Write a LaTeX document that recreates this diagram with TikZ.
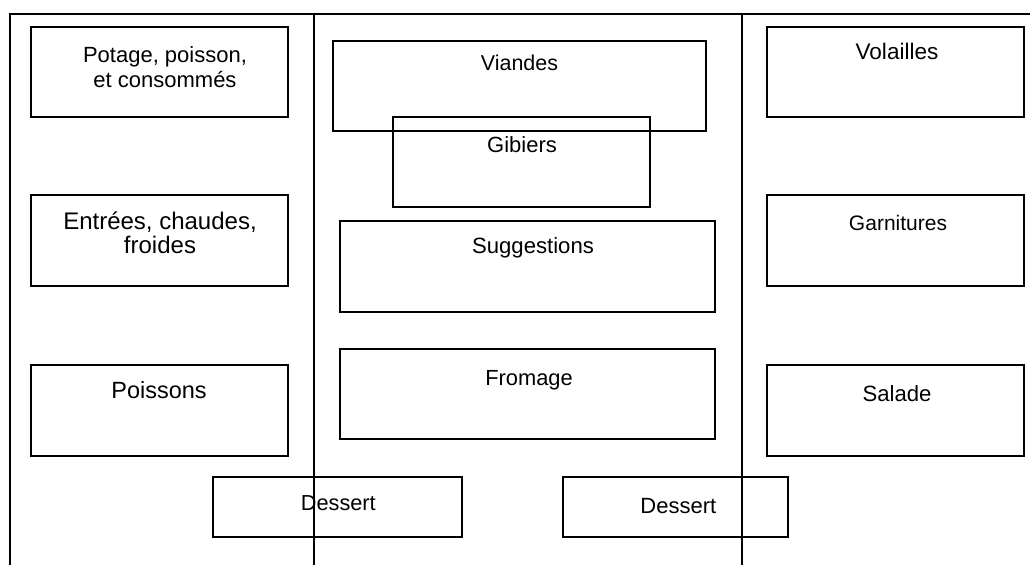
\documentclass[tikz,border=0pt]{standalone}
\usepackage{fontspec}
\setmainfont{Liberation Sans}
\usetikzlibrary{fit}
\begin{document}
\begin{tikzpicture}[x=0.75pt,y=-0.75pt,
  frameline/.style={line width=1.5pt, line join=miter},
  box/.style={draw, line width=1.3pt, inner sep=0pt, outer sep=0pt},
  lbl/.style={inner sep=0pt, anchor=base, align=center}]
\useasboundingbox (0,0) rectangle (1030,565);
% frame coordinates
\coordinate (tl) at (10,14);
\coordinate (tr) at (1030,14);
\coordinate (bl) at (10,565);
\coordinate (v1t) at (314,14);
\coordinate (v1b) at (314,565);
\coordinate (v2t) at (742,14);
\coordinate (v2b) at (742,565);
\draw[frameline] (bl) -- (tl) -- (tr);
\draw[frameline] (v1t) -- (v1b);
\draw[frameline] (v2t) -- (v2b);
% boxes
\node[box, fit={(31,27) (288,117)}] (potage) {};
\node[box, fit={(31,195) (288,286)}] (entrees) {};
\node[box, fit={(31,365) (288,456)}] (poissons) {};
\node[box, fit={(333,41) (706,131)}] (viandes) {};
\node[box, fit={(393,117) (650,207)}] (gibiers) {};
\node[box, fit={(340,221) (715,312)}] (sugg) {};
\node[box, fit={(340,349) (715,439)}] (fromage) {};
\node[box, fit={(767,27) (1024,117)}] (volailles) {};
\node[box, fit={(767,195) (1024,286)}] (garn) {};
\node[box, fit={(767,365) (1024,456)}] (salade) {};
\node[box, fit={(213,477) (462,537)}] (dessertA) {};
\node[box, fit={(563,477) (788,537)}] (dessertB) {};
% labels
\node[lbl, anchor=north, font=\fontsize{16.5}{19.2}\selectfont] (tPotage) at (165,46) {Potage, poisson,\\et consommés};
\node[lbl, anchor=north, font=\fontsize{18}{17.5}\selectfont] (tEntrees) at (160,212) {Entrées, chaudes,\\froides};
\node[lbl, font=\fontsize{17.6}{20}\selectfont] (tPoissons) at (159,398.3) {Poissons};
\node[lbl, font=\fontsize{16.1}{19}\selectfont] (tViandes) at (519.5,70) {Viandes};
\node[lbl, font=\fontsize{16.5}{19}\selectfont] (tGibiers) at (522,152) {Gibiers};
\node[lbl, font=\fontsize{16.6}{19}\selectfont] (tSugg) at (533,253.3) {Suggestions};
\node[lbl, font=\fontsize{16.4}{19}\selectfont] (tFromage) at (529,385) {Fromage};
\node[lbl, font=\fontsize{16.9}{19}\selectfont] (tVolailles) at (897,59.3) {Volailles};
\node[lbl, font=\fontsize{15.75}{19}\selectfont] (tGarn) at (898,230.7) {Garnitures};
\node[lbl, font=\fontsize{16.6}{19}\selectfont] (tSalade) at (897,401.3) {Salade};
\node[lbl, font=\fontsize{16.3}{19}\selectfont] (tDessertA) at (338.3,510) {Dessert};
\node[lbl, font=\fontsize{16.5}{19}\selectfont] (tDessertB) at (678.3,513.3) {Dessert};
\end{tikzpicture}
\end{document}
